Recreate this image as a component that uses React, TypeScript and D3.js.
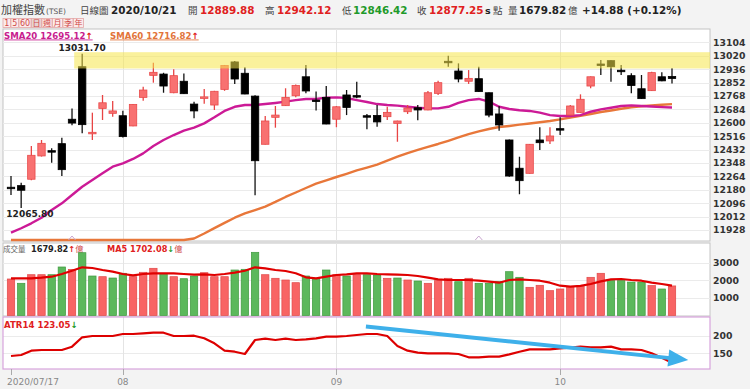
import React from "react";
import * as d3 from "d3";

const dates = [
  "2020/07/17","2020/07/20","2020/07/21","2020/07/22","2020/07/23","2020/07/24","2020/07/27","2020/07/28","2020/07/29","2020/07/30","2020/07/31",
  "2020/08/03","2020/08/04","2020/08/05","2020/08/06","2020/08/07","2020/08/10","2020/08/11","2020/08/12","2020/08/13","2020/08/14","2020/08/17","2020/08/18","2020/08/19","2020/08/20","2020/08/21","2020/08/24","2020/08/25","2020/08/26","2020/08/27","2020/08/28","2020/08/31",
  "2020/09/01","2020/09/02","2020/09/03","2020/09/04","2020/09/07","2020/09/08","2020/09/09","2020/09/10","2020/09/11","2020/09/14","2020/09/15","2020/09/16","2020/09/17","2020/09/18","2020/09/21","2020/09/22","2020/09/23","2020/09/24","2020/09/25","2020/09/28","2020/09/29","2020/09/30",
  "2020/10/05","2020/10/06","2020/10/07","2020/10/08","2020/10/12","2020/10/13","2020/10/14","2020/10/15","2020/10/16","2020/10/19","2020/10/20","2020/10/21",
];
const opens = [12196,12206,12246,12392,12425,12469,12622,12951,12536,12690,12659,12644,12580,12759,12897,12905,12788,12860,12717,12756,12711,12809,12981,12910,12767,12465,12634,12707,12769,12888,12742,12759,12622,12774,12770,12644,12646,12638,12596,12669,12694,12680,12784,12985,12924,12860,12876,12788,12655,12492,12315,12283,12492,12486,12563,12648,12665,12830,12968,12989,12929,12895,12813,12801,12888,12889.88];
const highs = [12266,12224,12454,12492,12440,12506,12690,13031.7,12663,12774,12736,12675,12717,12826,12976,12913,12935,12909,12732,12811,12800,12962,12987,12947,12772,12642,12705,12816,12840,12962,12795,12830,12705,12805,12857,12655,12711,12700,12613,12711,12711,12799,12863,13020,12972,12930,12951,12790,12705,12495,12387,12467,12571,12571,12634,12711,12778,12890,12993,12992,12962,12910,12899,12920,12916,12942.12];
const lows = [12147,12065.8,12240,12388,12350,12266,12585,12534,12492,12617,12638,12508,12578,12738,12851,12788,12785,12780,12628,12719,12680,12800,12843,12778,12145,12463,12569,12705,12760,12784,12676,12590,12572,12648,12753,12559,12575,12617,12481,12655,12615,12678,12774,12951,12853,12843,12793,12634,12550,12262,12152,12281,12429,12467,12523,12645,12663,12816,12899,12857,12899,12784,12749,12799,12860,12846.42];
const closes = [12191,12177,12396,12471,12420,12306,12598,12588,12540,12725,12674,12513,12715,12805,12916,12830,12895,12782,12674,12762,12797,12959,12874,12780,12362,12611,12648,12759,12834,12799,12738,12592,12700,12696,12767,12641,12605,12665,12611,12692,12680,12788,12851,12982,12874,12878,12795,12648,12586,12266,12237,12465,12475,12517,12560,12705,12747,12888,12965,12951,12926,12833,12751,12914,12862.37,12877.25];
const prevCloseBefore = 12170;
const volumes = [2074,1830,2318,2318,2318,2756,2620,3568,2244,2205,2130,2398,2205,2455,2682,2398,2205,2091,2244,2432,2205,2205,2585,2625,3590,2318,2114,2017,1864,2244,2114,2585,2318,2244,2318,2318,2301,2114,2130,2017,1960,1830,1980,2114,1920,2114,1830,1830,1920,2489,2170,1602,1716,1411,1506,1640,1640,2170,2398,1980,1980,1900,1900,1700,1506,1679.82];
const volMA5 = [2114,2114,2114,2148,2205,2358,2545,2739,2700,2585,2489,2358,2284,2358,2398,2398,2398,2358,2318,2340,2301,2358,2432,2545,2739,2682,2585,2528,2398,2170,2114,2205,2301,2340,2398,2398,2358,2340,2318,2301,2244,2148,2057,2017,2017,2017,1977,1920,1864,2017,2057,2017,1977,1864,1693,1636,1680,1790,1940,2057,2075,2017,1977,1864,1790,1702.08];
const sma20 = [11911,11939,11970,12005,12053,12095,12147,12199,12241,12283,12325,12346,12373,12408,12454,12492,12523,12550,12569,12596,12634,12674,12700,12711,12711,12717,12724,12732,12742,12749,12749,12757,12759,12755,12742,12730,12717,12711,12707,12700,12694,12690,12690,12700,12725,12742,12749,12732,12700,12686,12678,12674,12663,12648,12642,12642,12648,12669,12684,12694,12705,12709,12705,12702,12698,12695.12];
const sma60 = [11560,11578,11596,11614,11632,11650,11668,11686,11704,11722,11740,11757,11774,11791,11808,11825,11840,11855,11875,11906,11940,11973,12005,12032,12053,12075,12104,12135,12163,12191,12218,12239,12260,12280,12301,12319,12338,12363,12387,12410,12430,12449,12467,12487,12508,12529,12546,12561,12573,12580,12588,12595,12603,12611,12621,12633,12644,12655,12667,12677,12688,12697,12703,12709,12713,12716.82];
const atr14 = [142.3,145.2,157.4,159.4,159.4,159.4,168.8,195.5,199.1,199.1,199.1,204.8,204.8,206.7,208.5,208.5,199.1,199.1,200,192.6,178.4,157.4,154.5,148,187.8,191.5,187.8,191.5,187.8,189.6,192.6,197.2,197.2,199.1,202,204.8,204.8,199.1,170.7,157.4,151.8,150,150,150,148,138.6,138.6,140.5,140.5,147,154.5,161.3,161.3,161.3,164.2,166,168.8,167,167,168.8,161.3,161.3,159.4,150,137.5,123.05];
const priceTicks = [13104,13020,12936,12852,12768,12684,12600,12516,12432,12348,12264,12180,12096,12012,11928];
const volTicks = [3000,2000,1000];
const atrTicks = [200,150];
const bandRange = [12940, 13042];
const bandStartIdx = 7;
const markerIdx = [6, 46];
const periodLabels = ["1","5","60","日","週","月","季","年"];
const trendArrow = { startIdx: 34.9, startVal: 226, endIdx: 66.6, endVal: 131 };

const FONT = "'DejaVu Sans', Verdana, 'Noto Sans CJK TC', sans-serif";
const CJK = "'Noto Sans CJK TC', 'DejaVu Sans', sans-serif";
const RED = "#e02020";
const GREEN = "#1f9a2a";

export default function App() {
  const PL = 3, PR = 710;
  const mainTop = 29, mainBottom = 241;
  const volTop = 243, volBottom = 316;
  const atrTop = 317, atrBottom = 369;

  const x = d3.scalePoint<string>().domain(dates).range([11, 672]);
  const step = x.step();
  const xi = (i: number) => 11 + i * step;
  const yP = d3.scaleLinear().domain([11928, 13104]).range([230, 42.3]);
  const yPc = (v: number) => Math.max(mainTop, Math.min(240, yP(v)));
  const yV = d3.scaleLinear().domain([0, 3000]).range([315.5, 262.7]);
  const yA = d3.scaleLinear().domain([150, 200]).range([353.3, 335.7]);

  const lineP = d3.line<number>().x((_, i) => x(dates[i])!).y((d) => yPc(d));
  const lineV = d3.line<number>().x((_, i) => x(dates[i])!).y((d) => yV(d));
  const lineA = d3.line<number>().x((_, i) => x(dates[i])!).y((d) => yA(d));

  const monthIdx: number[] = [];
  dates.forEach((d, i) => {
    if (i > 0 && d.slice(5, 7) !== dates[i - 1].slice(5, 7)) monthIdx.push(i);
  });
  const xTicks = [{ i: 0, label: dates[0] }, ...monthIdx.map((i) => ({ i, label: dates[i].slice(5, 7) }))];

  const n = dates.length;
  const last = n - 1;
  const prevClose = closes[last - 1];
  const chg = closes[last] - prevClose;
  const pct = (chg / prevClose) * 100;
  const cmpColor = (v: number) => (v >= prevClose ? RED : GREEN);

  const hiIdx = d3.maxIndex(highs);
  const loIdx = d3.minIndex(lows);

  const bw = 7.4;

  const ax1 = xi(trendArrow.startIdx), ay1 = yA(trendArrow.startVal);
  const ax2 = xi(trendArrow.endIdx), ay2 = yA(trendArrow.endVal);
  const dx = ax2 - ax1, dy = ay2 - ay1;
  const len = Math.hypot(dx, dy);
  const ux = dx / len, uy = dy / len;
  const bx = ax2 - ux * 20, by = ay2 - uy * 20;
  const px = -uy * 8.5, py = ux * 8.5;

  let bxPos = 3;
  const periodBoxes = periodLabels.map((l) => {
    const w = l.length === 1 && /\d/.test(l) ? 7.5 : l.length === 2 ? 12 : 10;
    const b = { l, x: bxPos, w };
    bxPos += w + 0.5;
    return b;
  });

  const NUM = 10.4;

  return (
    <svg width={750} height={389} style={{ position: "absolute", left: 0, top: 0, fontFamily: FONT }}>
      <rect x={0} y={0} width={750} height={389} fill="#f3f3f3" />
      {/* header */}
      <g fontSize={11}>
        <text x={1} y={14} fill="#444" fontSize={11} fontFamily={CJK}>加權指數</text>
        <text x={46} y={14} fill="#555" fontSize={7.5}>(TSE)</text>
        <text x={80} y={14} fill="#444" fontSize={9.5} fontFamily={CJK}>日線圖</text>
        <text x={111} y={14} fill="#222" fontWeight="bold" fontSize={NUM}>{dates[last]}</text>
        <text x={188} y={14} fill="#444" fontSize={9.5} fontFamily={CJK}>開</text>
        <text x={200} y={14} fill={cmpColor(opens[last])} fontWeight="bold" fontSize={NUM}>{opens[last].toFixed(2)}</text>
        <text x={265} y={14} fill="#444" fontSize={9.5} fontFamily={CJK}>高</text>
        <text x={277} y={14} fill={cmpColor(highs[last])} fontWeight="bold" fontSize={NUM}>{highs[last].toFixed(2)}</text>
        <text x={342} y={14} fill="#444" fontSize={9.5} fontFamily={CJK}>低</text>
        <text x={353} y={14} fill={cmpColor(lows[last])} fontWeight="bold" fontSize={NUM}>{lows[last].toFixed(2)}</text>
        <text x={417} y={14} fill="#444" fontSize={9.5} fontFamily={CJK}>收</text>
        <text x={429} y={14} fill={cmpColor(closes[last])} fontWeight="bold" fontSize={NUM}>{closes[last].toFixed(2)}</text>
        <text x={485} y={14} fill="#222" fontWeight="bold" fontSize={9.5}>s</text>
        <text x={493} y={14} fill="#444" fontSize={9.5} fontFamily={CJK}>點</text>
        <text x={508} y={14} fill="#444" fontSize={9.5} fontFamily={CJK}>量</text>
        <text x={519} y={14} fill="#222" fontWeight="bold" fontSize={NUM}>{volumes[last].toFixed(2)}</text>
        <text x={568} y={14} fill="#444" fontSize={9.5} fontFamily={CJK}>億</text>
        <text x={582} y={14} fill="#222" fontWeight="bold" fontSize={NUM}>{`${chg >= 0 ? "+" : ""}${chg.toFixed(2)} (${chg >= 0 ? "+" : ""}${pct.toFixed(2)}%)`}</text>
      </g>
      {/* period buttons */}
      <g fontSize={8}>
        {periodBoxes.map((b) => (
          <g key={b.l}>
            <rect x={b.x} y={18.5} width={b.w} height={9} fill={b.l === "日" ? "#e6d2d2" : "#fbeaea"} stroke="#e3a7a7" strokeWidth={0.8} />
            <text x={b.x + b.w / 2} y={26} textAnchor="middle" fill="#d04848" fontFamily={/\d/.test(b.l) ? FONT : CJK}>{b.l}</text>
          </g>
        ))}
      </g>

      {/* panels */}
      <rect x={PL} y={mainTop} width={PR - PL} height={mainBottom - mainTop} fill="#fff" stroke="#c4c4c4" strokeWidth={1} />
      <rect x={PL} y={volTop} width={PR - PL} height={volBottom - volTop} fill="#fff" stroke="#c4c4c4" strokeWidth={1} />
      <rect x={PL} y={atrTop} width={PR - PL} height={atrBottom - atrTop} fill="#fff" />

      {/* gridlines */}
      <g stroke="#ebebeb" strokeWidth={1}>
        {priceTicks.map((t) => (
          <line key={t} x1={PL} x2={PR} y1={Math.round(yP(t)) + 0.5} y2={Math.round(yP(t)) + 0.5} />
        ))}
        {volTicks.map((t) => (
          <line key={t} x1={PL} x2={PR} y1={Math.round(yV(t)) + 0.5} y2={Math.round(yV(t)) + 0.5} />
        ))}
        {atrTicks.map((t) => (
          <line key={t} x1={PL} x2={PR} y1={Math.round(yA(t)) + 0.5} y2={Math.round(yA(t)) + 0.5} />
        ))}
        {monthIdx.map((i) => (
          <g key={i} stroke="#e4e4e4">
            <line x1={Math.round(x(dates[i])!) + 0.5} x2={Math.round(x(dates[i])!) + 0.5} y1={mainTop} y2={mainBottom} />
            <line x1={Math.round(x(dates[i])!) + 0.5} x2={Math.round(x(dates[i])!) + 0.5} y1={volTop} y2={volBottom} />
            <line x1={Math.round(x(dates[i])!) + 0.5} x2={Math.round(x(dates[i])!) + 0.5} y1={atrTop} y2={atrBottom} />
          </g>
        ))}
      </g>

      {/* legends main */}
      <g fontSize={8.6} fontWeight="bold">
        <text x={4} y={38.5} fill="#c81d8e" textDecoration="underline">
          {`SMA20 ${sma20[last].toFixed(2)}`}<tspan fill={RED}>↑</tspan>
        </text>
        <text x={110} y={38.5} fill="#e2743a" textDecoration="underline">
          {`SMA60 ${sma60[last].toFixed(2)}`}<tspan fill={RED}>↑</tspan>
        </text>
      </g>

      {/* SMA lines */}
      <path d={lineP(sma60)!} fill="none" stroke="#e8773a" strokeWidth={2.4} strokeLinejoin="round" />
      <path d={lineP(sma20)!} fill="none" stroke="#cc1a96" strokeWidth={2.4} strokeLinejoin="round" />

      {/* candles */}
      {dates.map((d, i) => {
        const cx = x(d)!;
        const up = closes[i] >= opens[i];
        const top = yP(Math.max(opens[i], closes[i]));
        const bot = yP(Math.min(opens[i], closes[i]));
        const h = Math.max(1.5, bot - top);
        const wick = up ? "#e84444" : "#111";
        return (
          <g key={d}>
            <line x1={cx} x2={cx} y1={yP(highs[i])} y2={yP(lows[i])} stroke={wick} strokeWidth={1.3} />
            <rect x={cx - bw / 2} y={top} width={bw} height={h} fill={up ? "#f87171" : "#000"} stroke={up ? "#e84a4a" : "#000"} strokeWidth={0.8} />
          </g>
        );
      })}

      {/* resistance band */}
      <rect x={x(dates[bandStartIdx])! - 8} y={yP(bandRange[1])} width={PR - (x(dates[bandStartIdx])! - 8)} height={yP(bandRange[0]) - yP(bandRange[1])} fill="#f6e64a" opacity={0.55} />

      {/* hi/lo labels */}
      <g fontSize={9} fontWeight="bold" fill="#222">
        <text x={x(dates[hiIdx])!} y={yP(highs[hiIdx]) - 2.5} textAnchor="middle">{highs[hiIdx].toFixed(2)}</text>
        <text x={Math.max(x(dates[loIdx])!, 30)} y={yP(lows[loIdx]) + 9} textAnchor="middle">{lows[loIdx].toFixed(2)}</text>
      </g>

      {/* markers */}
      {markerIdx.map((i) => (
        <path key={i} d={`M${x(dates[i])! - 3.5},240 L${x(dates[i])!},236 L${x(dates[i])! + 3.5},240`} fill="none" stroke="#c9a6cf" strokeWidth={1} />
      ))}

      {/* volume */}
      <g fontSize={8.2}>
        <text x={3} y={252} fill="#666" fontFamily={CJK} fontSize={7.5}>成交量</text>
        <text x={31} y={252} fill="#222" fontWeight="bold">{volumes[last].toFixed(2)}<tspan fill={RED}>↑</tspan><tspan fill="#d04848" fontWeight="normal" fontFamily={CJK}>億</tspan></text>
        <text x={107} y={252} fill={RED} fontWeight="bold">{`MA5 ${volMA5[last].toFixed(2)}`}<tspan fill={GREEN}>↓</tspan><tspan fill="#d04848" fontWeight="normal" fontFamily={CJK}>億</tspan></text>
      </g>
      {dates.map((d, i) => {
        const cx = x(d)!;
        const pc = i === 0 ? prevCloseBefore : closes[i - 1];
        const up = closes[i] >= pc;
        return (
          <rect key={d} x={cx - bw / 2} y={yV(volumes[i])} width={bw} height={yV(0) - yV(volumes[i])} fill={up ? "#f86464" : "#5cb85c"} stroke={up ? "#e04848" : "#3f9a3f"} strokeWidth={0.7} />
        );
      })}
      <path d={lineV(volMA5)!} fill="none" stroke="#e00000" strokeWidth={2.2} strokeLinejoin="round" />

      {/* ATR */}
      <path d={lineA(atr14)!} fill="none" stroke="#dd0000" strokeWidth={2.2} strokeLinejoin="round" />
      <rect x={PL} y={atrTop} width={PR - PL} height={atrBottom - atrTop} fill="none" stroke="#d7a3dc" strokeWidth={1.2} />
      <text x={4} y={328} fontSize={8.6} fontWeight="bold" fill={RED}>{`ATR14 ${atr14[last].toFixed(2)}`}<tspan fill={GREEN}>↓</tspan></text>

      {/* trend arrow annotation */}
      <line x1={ax1} y1={ay1} x2={bx + ux * 2} y2={by + uy * 2} stroke="#3eb0ea" strokeWidth={4} />
      <polygon points={`${ax2},${ay2} ${bx + px},${by + py} ${bx - px},${by - py}`} fill="#3eb0ea" />

      {/* right axes */}
      <g fontSize={9.3} fontWeight="bold" fill="#333">
        {priceTicks.map((t) => (
          <text key={t} x={713} y={yP(t) + 3.4}>{t}</text>
        ))}
        {volTicks.map((t) => (
          <text key={t} x={713} y={yV(t) + 3.4}>{t}</text>
        ))}
        {atrTicks.map((t) => (
          <text key={t} x={713} y={yA(t) + 3.4}>{t}</text>
        ))}
      </g>

      {/* x axis */}
      <g fontSize={9} fill="#888">
        {xTicks.map((t) => (
          <g key={t.i}>
            <line x1={Math.round(x(dates[t.i])!) + 0.5} x2={Math.round(x(dates[t.i])!) + 0.5} y1={atrBottom} y2={375} stroke="#aaa" />
            <text x={t.i === 0 ? 7 : x(dates[t.i])!} y={385} textAnchor={t.i === 0 ? "start" : "middle"}>{t.label}</text>
          </g>
        ))}
      </g>
    </svg>
  );
}
